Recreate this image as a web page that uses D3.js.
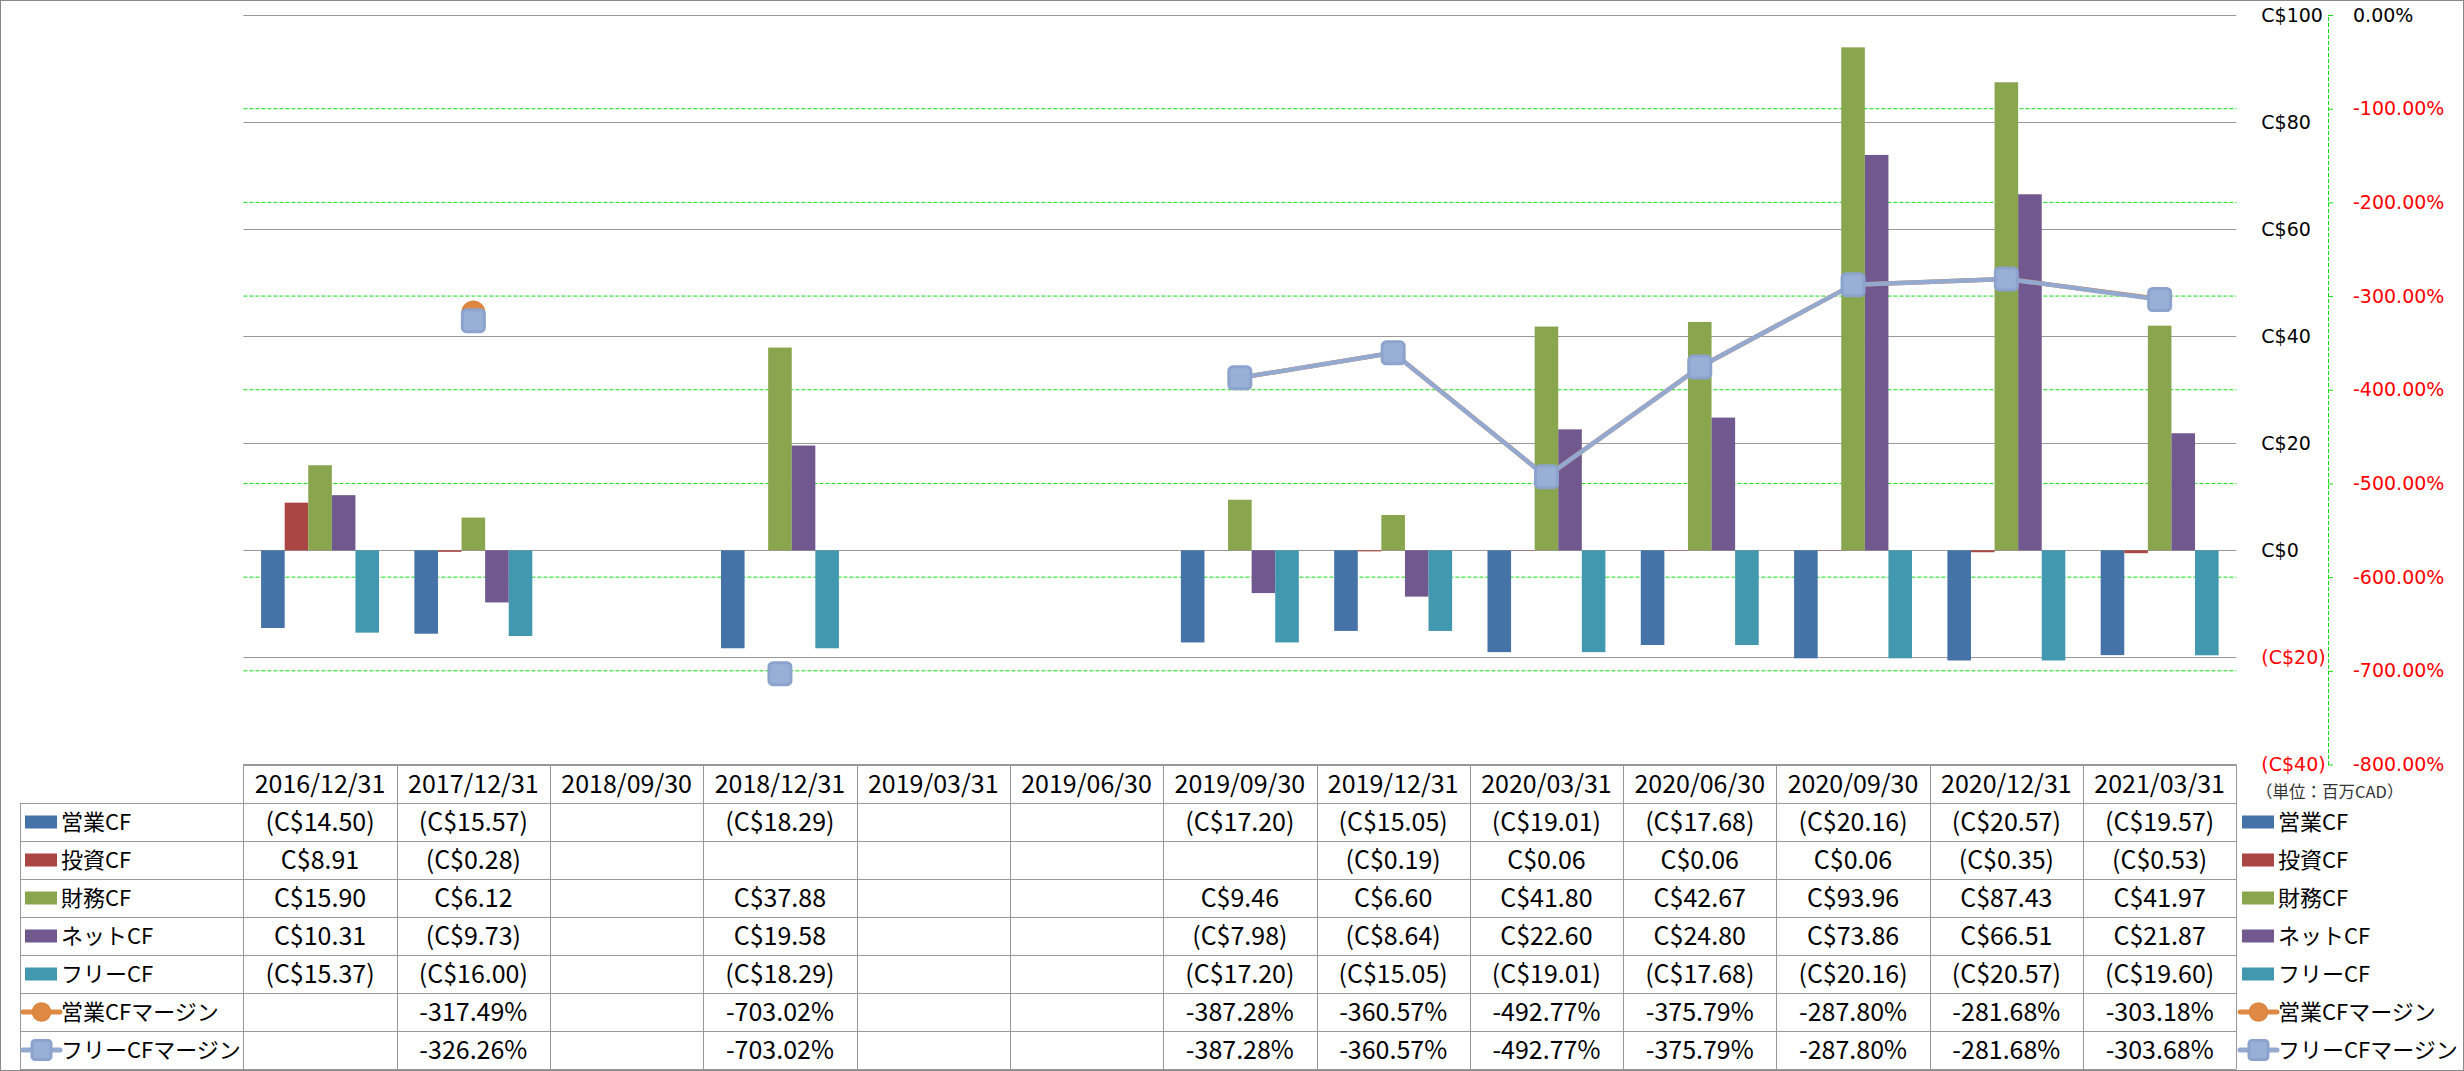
<!DOCTYPE html>
<html>
<head>
<meta charset="utf-8">
<script src="https://cdn.jsdelivr.net/npm/d3@7"></script>
<style>
  html, body { margin: 0; padding: 0; background: #fff; }
  .axis text { font-family: "DejaVu Sans", Verdana, sans-serif; font-size: 19px; }
  .cell { font-family: "Noto Sans CJK JP", sans-serif; font-size: 25px; }
  .lbl { font-family: "Noto Sans CJK JP", sans-serif; font-size: 22px; }
</style>
</head>
<body>
<svg class="chart" width="2464" height="1071"></svg>
<script>
const categories = ["2016/12/31", "2017/12/31", "2018/09/30", "2018/12/31", "2019/03/31", "2019/06/30", "2019/09/30", "2019/12/31", "2020/03/31", "2020/06/30", "2020/09/30", "2020/12/31", "2021/03/31"]

const opCF     = [-14.50, -15.57, null, -18.29, null, null, -17.20, -15.05, -19.01, -17.68, -20.16, -20.57, -19.57],
      invCF    = [8.91, -0.28, null, null, null, null, null, -0.19, 0.06, 0.06, 0.06, -0.35, -0.53],
      finCF    = [15.90, 6.12, null, 37.88, null, null, 9.46, 6.60, 41.80, 42.67, 93.96, 87.43, 41.97],
      netCF    = [10.31, -9.73, null, 19.58, null, null, -7.98, -8.64, 22.60, 24.80, 73.86, 66.51, 21.87],
      freeCF   = [-15.37, -16.00, null, -18.29, null, null, -17.20, -15.05, -19.01, -17.68, -20.16, -20.57, -19.60]

const opMargin   = [null, -317.49, null, -703.02, null, null, -387.28, -360.57, -492.77, -375.79, -287.80, -281.68, -303.18],
      freeMargin = [null, -326.26, null, -703.02, null, null, -387.28, -360.57, -492.77, -375.79, -287.80, -281.68, -303.68]

const barNames  = ["営業CF", "投資CF", "財務CF", "ネットCF", "フリーCF"],
      lineNames = ["営業CFマージン", "フリーCFマージン"]

const leftTicks  = [-40, -20, 0, 20, 40, 60, 80, 100],
      rightTicks = [0, -100, -200, -300, -400, -500, -600, -700, -800]

const barColors = ["#4572a7", "#aa4643", "#89a54e", "#71588f", "#4198af"],
      lineColors = ["#db843d", "#93a9d0"]

const barSeries = [opCF, invCF, finCF, netCF, freeCF],
      lineSeries = [opMargin, freeMargin]

const plot = { left: 243.4, right: 2236.3, top: 15, bottom: 764.5 },
      table = { labelLeft: 20, headerH: 38.5, rowH: 38 },
      gridColor = "#999"

const money = function(v) {
  if (v == null) return ""
  return v < 0 ? "(C$" + Math.abs(v).toFixed(2) + ")" : "C$" + v.toFixed(2)
}
const pct = function(v) { return v == null ? "" : v.toFixed(2) + "%" }

var svg = d3.select(".chart")

svg.append("rect")
  .attr("x", 0.5).attr("y", 0.5).attr("width", 2463).attr("height", 1070)
  .attr("fill", "#fff").attr("stroke", "#888")

var x = d3.scaleBand().domain(categories).range([plot.left, plot.right])
var bw = x.bandwidth(),
    gap = bw * 0.75 / 6.5
var x1 = d3.scaleBand().domain(d3.range(barSeries.length)).range([gap, bw - gap])

var y = d3.scaleLinear().domain([-40, 100]).range([plot.bottom, plot.top])
var y2 = d3.scaleLinear().domain([-800, 0]).range([plot.bottom, plot.top])

// gridlines: dashed green for the % axis, solid grey for C$
svg.append("g").selectAll("line")
  .data(rightTicks.slice(1, -1))
  .join("line")
    .attr("x1", plot.left).attr("x2", plot.right)
    .attr("y1", d => y2(d)).attr("y2", d => y2(d))
    .attr("stroke", "#11dd11").attr("stroke-dasharray", "4,2")

svg.append("g").selectAll("line")
  .data(leftTicks)
  .join("line")
    .attr("x1", plot.left).attr("x2", plot.right)
    .attr("y1", d => Math.round(y(d)) + 0.5).attr("y2", d => Math.round(y(d)) + 0.5)
    .attr("stroke", gridColor)

// bars
barSeries.forEach(function(vals, s) {
  svg.append("g").selectAll("rect")
    .data(vals.map((v, i) => ({ v: v, c: categories[i] })).filter(d => d.v != null))
    .join("rect")
      .attr("x", d => x(d.c) + x1(s))
      .attr("width", x1.bandwidth())
      .attr("y", d => y(Math.max(0, d.v)))
      .attr("height", d => Math.abs(y(d.v) - y(0)))
      .attr("fill", barColors[s])
})

// margin lines
var line = d3.line()
  .defined(d => d.v != null)
  .x(d => x(d.c) + bw / 2)
  .y(d => y2(d.v))

lineSeries.forEach(function(vals, s) {
  var pts = vals.map((v, i) => ({ v: v, c: categories[i] }))
  svg.append("path")
    .attr("d", line(pts))
    .attr("fill", "none")
    .attr("stroke", lineColors[s])
    .attr("stroke-width", 4.5)
    .attr("stroke-linejoin", "round")
  var g = svg.append("g")
  pts = pts.filter(d => d.v != null)
  if (s === 0) {
    g.selectAll("circle").data(pts).join("circle")
      .attr("cx", d => x(d.c) + bw / 2).attr("cy", d => y2(d.v)).attr("r", 11)
      .attr("fill", "#df8a44").attr("stroke", lineColors[0]).attr("stroke-width", 2)
  } else {
    g.selectAll("rect").data(pts).join("rect")
      .attr("x", d => x(d.c) + bw / 2 - 11).attr("y", d => y2(d.v) - 11)
      .attr("width", 22).attr("height", 22).attr("rx", 4)
      .attr("fill", "#9aafd5").attr("stroke", "#8ca4cd").attr("stroke-width", 3)
  }
})

// axes
svg.append("g")
  .attr("class", "axis")
  .attr("transform", "translate(" + plot.right + ",0)")
  .call(d3.axisRight(y).tickValues(leftTicks).tickSize(0).tickPadding(25)
    .tickFormat(d => d < 0 ? "(C$" + Math.abs(d) + ")" : "C$" + d))
  .call(g => g.select(".domain").remove())
  .selectAll("text")
    .attr("fill", d => d < 0 ? "#ff0000" : "#000")

svg.append("g")
  .attr("class", "axis")
  .attr("transform", "translate(2328,0)")
  .call(d3.axisRight(y2).tickValues(rightTicks).tickSize(5).tickSizeOuter(0).tickPadding(20)
    .tickFormat(d => d.toFixed(2) + "%"))
  .call(g => g.select(".domain").attr("stroke", "#11dd11").attr("stroke-dasharray", "4,2"))
  .call(g => g.selectAll(".tick line").attr("stroke", "#11dd11"))
  .selectAll("text")
    .attr("fill", d => d < 0 ? "#ff0000" : "#000")

// data table
var tg = svg.append("g")
var rowTop = plot.bottom + table.headerH,
    nRows = barNames.length + lineNames.length,
    tableBottom = rowTop + nRows * table.rowH

tg.append("line")
  .attr("x1", plot.left).attr("x2", plot.right)
  .attr("y1", plot.bottom).attr("y2", plot.bottom)
  .attr("stroke", gridColor)

tg.selectAll(".hrow")
  .data(d3.range(nRows + 1))
  .join("line")
    .attr("x1", table.labelLeft).attr("x2", plot.right)
    .attr("y1", d => Math.round(rowTop + d * table.rowH) + 0.5)
    .attr("y2", d => Math.round(rowTop + d * table.rowH) + 0.5)
    .attr("stroke", gridColor)

tg.selectAll(".vcol")
  .data(categories.map(c => x(c)).concat([plot.right]))
  .join("line")
    .attr("x1", d => Math.round(d) + 0.5).attr("x2", d => Math.round(d) + 0.5)
    .attr("y1", plot.bottom).attr("y2", tableBottom)
    .attr("stroke", gridColor)

tg.append("line")
  .attr("x1", table.labelLeft + 0.5).attr("x2", table.labelLeft + 0.5)
  .attr("y1", rowTop).attr("y2", tableBottom)
  .attr("stroke", gridColor)

tg.selectAll(".head")
  .data(categories)
  .join("text")
    .attr("class", "cell")
    .attr("x", d => x(d) + bw / 2)
    .attr("y", plot.bottom + table.headerH / 2)
    .attr("dy", "0.35em")
    .attr("text-anchor", "middle")
    .text(d => d)

var rows = barSeries.map(vals => vals.map(money))
  .concat(lineSeries.map(vals => vals.map(pct)))

rows.forEach(function(vals, r) {
  tg.append("g").selectAll("text")
    .data(vals)
    .join("text")
      .attr("class", "cell")
      .attr("x", (d, i) => x(categories[i]) + bw / 2)
      .attr("y", rowTop + (r + 0.5) * table.rowH)
      .attr("dy", "0.35em")
      .attr("text-anchor", "middle")
      .text(d => d)
})

// legend keys, once in the table and once at the right
function legendKey(g, r, kx) {
  var cy = rowTop + (r + 0.5) * table.rowH
  if (r < barNames.length) {
    g.append("rect")
      .attr("x", kx).attr("y", cy - 6.5).attr("width", 32).attr("height", 13)
      .attr("fill", barColors[r])
  } else {
    var s = r - barNames.length
    g.append("line")
      .attr("x1", kx - 2).attr("x2", kx + 35).attr("y1", cy).attr("y2", cy)
      .attr("stroke", s === 0 ? "#df8a44" : "#93a9d0").attr("stroke-width", 5)
      .attr("stroke-linecap", "round")
    if (s === 0) {
      g.append("circle").attr("cx", kx + 16.5).attr("cy", cy).attr("r", 9)
        .attr("fill", "#df8a44").attr("stroke", lineColors[0]).attr("stroke-width", 1.5)
    } else {
      g.append("rect").attr("x", kx + 7).attr("y", cy - 9.5).attr("width", 19).attr("height", 19).attr("rx", 3)
        .attr("fill", "#9aafd5").attr("stroke", "#8ca4cd").attr("stroke-width", 3)
    }
  }
}

var allNames = barNames.concat(lineNames)
var lg = svg.append("g")
allNames.forEach(function(name, r) {
  var cy = rowTop + (r + 0.5) * table.rowH
  legendKey(lg, r, 25)
  lg.append("text").attr("class", "lbl").attr("x", 61).attr("y", cy).attr("dy", "0.36em").text(name)
  legendKey(lg, r, 2242)
  lg.append("text").attr("class", "lbl").attr("x", 2278).attr("y", cy).attr("dy", "0.36em").text(name)
})

svg.append("text")
  .attr("x", 2256).attr("y", 792).attr("dy", "0.36em")
  .style("font-family", "\"Noto Sans CJK JP\", sans-serif")
  .style("font-size", "16.5px")
  .attr("fill", "#333")
  .text("（単位：百万CAD）")
</script>
</body>
</html>
